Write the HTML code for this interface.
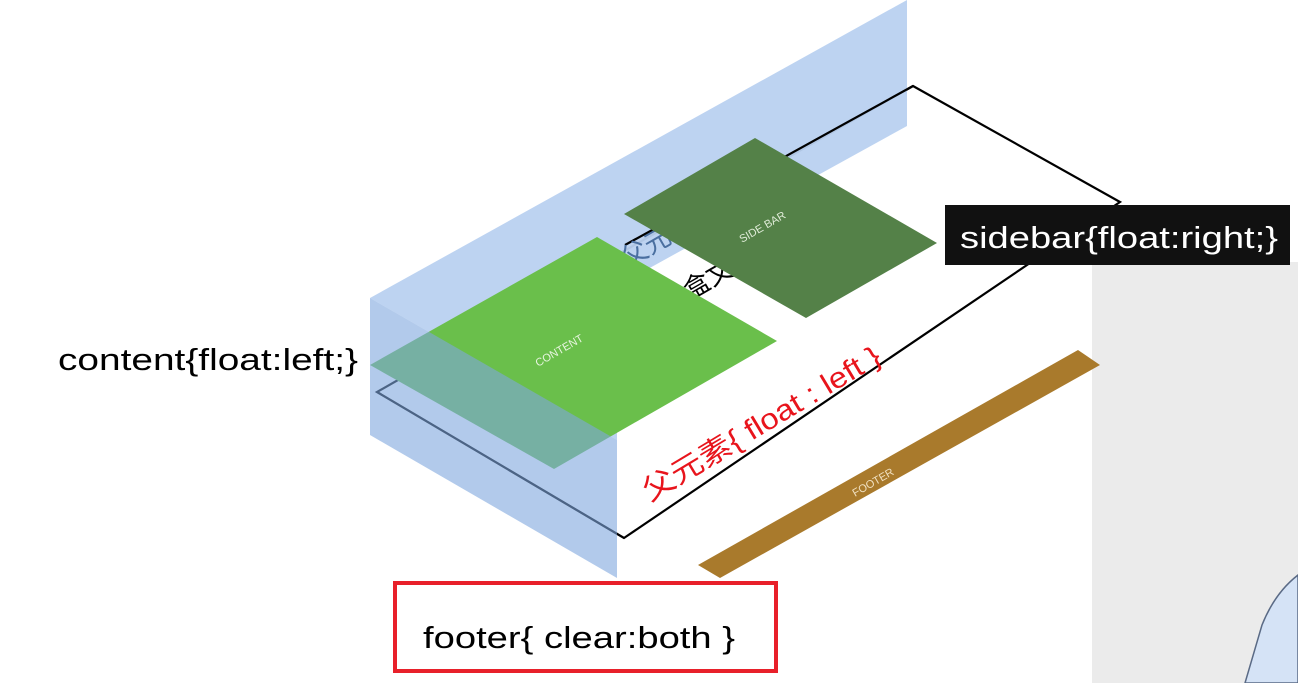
<!DOCTYPE html>
<html><head><meta charset="utf-8"><style>
html,body{margin:0;padding:0;background:#fff;width:1298px;height:683px;overflow:hidden}
svg{display:block}
</style></head><body>
<svg width="1298" height="683" viewBox="0 0 1298 683" xmlns="http://www.w3.org/2000/svg">
<rect x="1092" y="262" width="206" height="421" fill="#ebebeb"/>
<path d="M1298,575 C1285,585 1272,600 1262,625 L1245,683 L1298,683 Z" fill="#d5e3f6" stroke="#5a6a85" stroke-width="1.5"/>
<polygon points="913,86 1120,202 624,538 377,392" fill="#fff" stroke="#000" stroke-width="2.2"/>
<polygon points="370,298 907,0 907,126 617,286 617,440 370,298" fill="#b9d1f0" opacity="0.95"/>
<polyline points="377,392 624,538" fill="none" stroke="#000" stroke-width="2"/>
<polyline points="625,245 913,86" fill="none" stroke="#000" stroke-width="2.2"/>
<text x="0" y="0" transform="translate(628,268) rotate(-30)" font-family="Liberation Sans, Noto Sans CJK SC, sans-serif" font-size="26" fill="#4a6fa0">父元</text>
<text x="0" y="0" transform="translate(690,300) rotate(-30)" font-family="Liberation Sans, Noto Sans CJK SC, sans-serif" font-size="26" fill="#000">盒文</text>
<polygon points="597,237 777,341 554,469 370,365" fill="#6abf4b"/>
<text x="0" y="0" transform="translate(538,367) rotate(-30)" font-family="Liberation Sans, sans-serif" font-size="11" fill="#e8f5e0">CONTENT</text>
<polygon points="755,138 937,243 806,318 624,214" fill="#548148"/>
<text x="0" y="0" transform="translate(742,243) rotate(-30)" font-family="Liberation Sans, sans-serif" font-size="11" fill="#e0ecd8">SIDE BAR</text>
<polygon points="370,298 617,440 617,578 370,435" fill="#7ea6dd" opacity="0.6"/>
<polygon points="1078,350 1100,365 720,578 698,565" fill="#a97a2c"/>
<text x="0" y="0" transform="translate(855,497) rotate(-30)" font-family="Liberation Sans, sans-serif" font-size="11" fill="#f0e0c0">FOOTER</text>
<text x="0" y="0" transform="translate(650,502) rotate(-31)" font-family="Liberation Sans, Noto Sans CJK SC, sans-serif" font-size="29" fill="#e8141c" textLength="272" lengthAdjust="spacingAndGlyphs">父元素{ float : left }</text>
<rect x="945" y="205" width="345" height="60" fill="#111"/>
<text x="960" y="248" font-family="Liberation Sans, sans-serif" font-size="31" fill="#fff" textLength="318" lengthAdjust="spacingAndGlyphs">sidebar{float:right;}</text>
<text x="58" y="370" font-family="Liberation Sans, sans-serif" font-size="31" fill="#000" textLength="300" lengthAdjust="spacingAndGlyphs">content{float:left;}</text>
<rect x="395" y="583" width="381" height="88" fill="none" stroke="#e8202a" stroke-width="4"/>
<text x="423" y="648" font-family="Liberation Sans, sans-serif" font-size="31" fill="#000" textLength="312" lengthAdjust="spacingAndGlyphs">footer{ clear:both }</text>
</svg>
</body></html>
